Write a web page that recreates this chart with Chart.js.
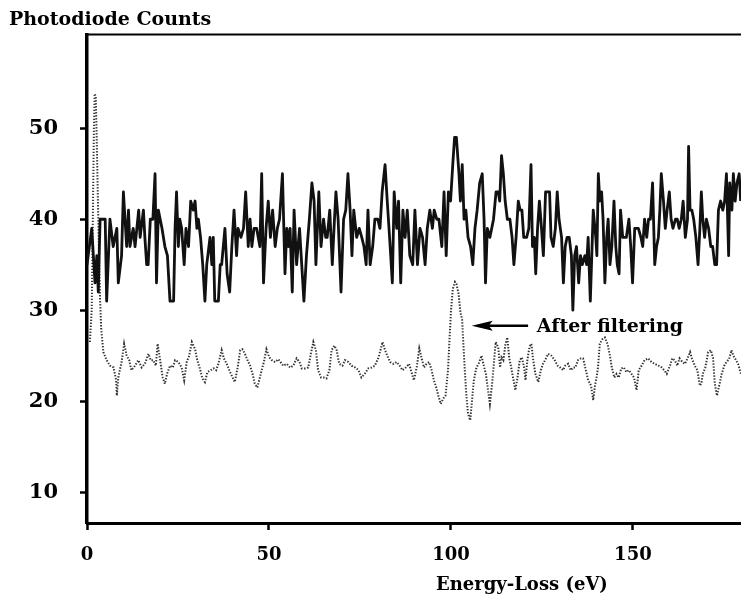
<!DOCTYPE html>
<html>
<head>
<meta charset="utf-8">
<script src="https://cdn.jsdelivr.net/npm/chart.js@4/dist/chart.umd.min.js"></script>
<style>
html,body{margin:0;padding:0;background:#fff;overflow:hidden;}
canvas{display:block;}
</style>
</head>
<body>
<canvas id="c" width="741" height="596"></canvas>
<script>
// ---- data ----
const xTickValues = [0, 50, 100, 150];
const yTickValues = [10, 20, 30, 40, 50];

// raw photodiode counts (thick black trace)
const rawEnergy = [0.0,1.3,2.2,2.7,3.1,3.6,5.0,5.4,6.3,7.2,8.2,8.6,9.5,10.0,10.9,11.4,11.8,12.7,13.2,14.2,14.6,15.5,15.9,16.4,16.8,17.4,18.1,18.7,19.1,19.6,20.6,21.4,22.1,22.8,23.8,24.2,24.6,25.1,25.5,26.0,26.7,27.2,27.9,28.5,29.2,29.7,30.2,30.6,31.2,31.8,32.4,32.9,33.8,34.3,34.7,35.1,36.1,36.6,37.0,37.9,38.5,39.2,39.8,40.4,41.1,41.5,42.3,43.0,43.6,44.3,44.8,45.3,45.9,46.6,47.5,48.0,48.5,49.2,49.8,50.4,51.0,51.7,52.3,52.9,
53.7,54.4,54.9,55.3,55.8,56.4,56.9,57.6,58.4,59.0,59.6,60.3,61.1,61.8,62.4,62.9,63.7,64.3,65.0,65.6,66.0,66.7,67.4,68.0,68.4,69.0,69.8,70.5,71.1,71.7,72.3,72.8,73.3,74.1,74.8,75.5,76.1,76.7,77.2,77.8,78.5,79.1,79.9,80.5,81.1,81.9,82.5,83.3,83.9,84.4,85.1,85.6,86.2,86.8,87.4,88.0,88.7,89.5,90.1,90.8,91.5,92.2,92.9,93.5,94.2,94.9,95.4,96.1,96.7,97.5,98.1,98.7,99.3,99.9,100.5,101.0,101.5,102.2,102.6,103.1,103.6,104.1,104.7,105.4,106.0,106.6,107.2,107.9,108.6,109.1,109.5,110.0,110.7,111.7,112.4,113.0,
113.4,113.9,114.4,114.9,115.5,116.2,116.8,117.3,117.9,118.5,119.0,119.5,120.0,120.8,121.4,122.0,122.4,122.9,123.3,123.8,124.3,124.7,125.4,126.0,126.4,127.1,127.5,128.1,128.7,129.2,129.7,130.4,130.9,131.4,131.9,132.5,133.1,133.5,134.0,134.5,135.1,135.6,136.1,136.8,137.3,137.7,138.3,138.7,139.1,139.8,140.1,140.5,140.9,141.4,141.8,142.3,142.8,143.2,143.7,144.2,144.8,145.3,145.7,146.2,146.6,147.2,147.7,148.2,148.9,149.4,149.9,150.5,151.0,151.5,152.2,152.7,153.2,153.8,154.3,154.8,155.4,156.0,156.5,157.0,157.4,157.8,158.4,158.9,159.4,160.0,160.5,161.0,161.7,162.2,162.7,163.3,163.8,164.4,165.0,165.3,165.7,166.2,166.7,167.3,167.9,168.4,168.8,169.2,169.7,170.2,170.8,171.4,171.9,172.5,173.0,173.5,174.1,174.7,175.2,175.7,176.3,176.6,177.2,177.6,178.1,178.6,179.2,179.6];
const rawCounts = [35,39,33,36,32,40,40,31,40,37,39,33,36,43,37,41,37,39,37,41,38,41,38,35,35,40,40,45,33,41,39,37,36,31,31,39,43,37,40,39,35,39,37,42,41,42,39,40,38,35,31,35,38,35,38,31,31,35,35,39,34,32,37,41,36,39,38,39,43,37,40,37,39,39,37,45,33,39,42,38,41,37,39,40,
45,34,39,37,39,32,41,35,39,35,31,36,40,44,42,35,43,37,40,38,38,41,35,40,43,40,32,40,41,45,41,36,41,38,39,38,37,35,41,35,37,40,40,39,43,46,42,37,33,43,39,42,33,41,38,41,36,35,41,35,39,38,35,39,41,39,41,40,40,37,43,36,43,42,46,49,49,45,42,46,40,41,38,37,35,39,41,44,45,40,33,39,38,40,43,43,
42,47,45,42,40,40,38,35,38,42,41,41,38,38,39,46,37,38,34,39,42,40,36,43,43,43,38,37,39,43,40,38,33,37,38,38,36,30,36,37,33,36,35,36,35,38,31,36,41,38,36,45,42,43,40,33,38,40,35,37,42,37,35,34,41,38,38,38,40,37,33,39,39,39,38,37,40,38,40,40,44,35,37,38,41,45,42,39,41,43,40,39,40,40,39,40,42,38,40,48,41,41,40,38,35,39,43,40,38,40,39,37,37,35,35,41,42,41,42,45,36,44,41,45,42,44,45,42];

// filtered spectrum (dotted trace)
const filteredEnergy = [0.8,1.3,1.6,1.9,2.1,2.4,2.7,3.0,3.3,3.6,3.9,
4.5,5.4,6.3,7.3,8.0,8.2,8.6,9.5,10.2,10.9,11.6,12.2,13.2,14.1,15.0,15.9,16.9,17.5,18.2,18.9,19.4,20.1,20.8,21.4,22.0,22.8,23.6,24.2,25.1,26.0,26.7,27.4,28.1,28.8,29.7,30.3,31.0,31.7,32.4,33.1,34.0,34.8,35.5,36.1,37.0,37.6,38.4,39.3,40.0,40.6,41.4,42.1,42.7,43.4,44.0,44.8,45.5,46.1,46.8,47.5,48.0,48.6,49.3,50.1,50.8,51.7,52.6,
53.9,54.9,55.8,56.7,57.6,58.4,59.0,59.9,60.8,61.5,62.2,62.9,63.5,64.3,65.0,65.8,66.6,67.2,68.0,68.6,69.3,70.2,70.9,71.8,72.7,73.7,74.6,75.4,76.3,77.3,78.2,79.1,80.1,80.7,81.2,81.9,82.5,83.3,84.2,85.1,85.9,86.7,87.6,88.5,89.3,89.8,90.6,91.3,91.9,92.6,93.3,94.0,94.7,95.3,95.9,96.6,97.2,97.9,98.5,99.2,99.6,100.0,100.5,101.1,101.5,102.1,102.6,103.1,103.4,103.8,104.2,104.7,105.3,105.7,106.3,107.0,107.6,108.4,108.9,109.6,110.2,110.7,111.3,111.8,112.3,113.0,
113.5,113.9,114.4,115.0,115.5,116.0,116.7,117.2,117.7,118.3,118.9,119.5,120.1,120.5,121.0,121.6,122.1,122.5,123.2,124.0,124.7,125.3,126.0,126.7,127.6,128.5,129.3,130.0,130.8,131.4,132.2,132.9,133.6,134.2,134.9,135.7,136.3,136.9,137.7,138.5,139.1,139.5,140.0,140.4,140.9,141.6,142.3,143.0,143.6,144.2,144.9,145.5,146.1,146.8,147.5,148.2,148.9,149.6,150.3,151.0,151.6,152.4,153.2,154.2,155.1,156.0,157.0,157.9,158.6,159.3,160.2,160.8,161.5,162.2,162.8,163.6,164.3,165.0,165.7,166.2,167.0,167.7,168.4,168.8,169.2,169.9,170.7,171.4,172.0,172.5,173.1,173.7,174.4,175.1,175.7,176.4,177.1,177.6,178.2,178.9,179.7];
const filteredCounts = [26.5,30,40,50,53.8,53.5,48,42,36,31,28,
25.4,24.5,23.9,23.7,22.3,20.6,22.6,24.3,26.3,25.0,24.5,23.4,23.9,24.5,23.7,24.1,25.2,24.5,24.5,23.9,26.3,24.5,22.6,21.9,23.0,23.9,23.7,24.5,24.3,23.7,22.3,24.3,25.0,26.5,25.7,24.5,23.6,22.5,22.1,23.2,23.4,23.6,23.4,24.1,25.6,24.7,24.1,23.2,22.6,22.1,23.7,25.6,25.7,25.2,24.6,23.9,23.0,21.9,21.5,22.6,23.4,24.3,25.7,24.8,24.5,24.3,24.6,
23.9,24.1,23.7,23.9,24.7,24.3,23.6,23.6,23.7,25.2,26.5,25.6,23.4,22.6,22.6,22.5,23.4,25.6,26.1,25.6,24.1,23.9,24.5,24.3,23.9,23.7,23.4,22.6,23.0,23.6,23.7,23.9,24.8,25.7,26.5,25.6,25.0,24.3,24.1,24.3,23.9,23.4,23.7,24.1,23.0,22.3,23.7,25.8,24.8,23.7,24.1,24.3,23.4,22.3,21.6,20.5,19.7,20.3,20.6,23.4,26.7,29.9,32.3,33.1,32.9,31.8,29.8,28.9,26.3,23.4,20.8,18.6,17.9,19.7,22.3,23.7,24.1,25.0,24.1,23.0,21.2,19.7,21.9,24.1,26.5,25.9,
23.7,24.8,24.5,26.3,27.0,24.8,23.4,22.3,21.2,22.6,24.5,24.8,23.7,22.3,24.5,26.0,26.3,24.8,23.0,22.1,23.4,24.1,24.6,25.2,25.0,24.5,23.9,23.7,23.4,23.9,24.1,23.4,23.7,23.7,24.5,24.7,24.7,23.7,22.3,21.7,20.1,21.5,22.6,23.7,26.3,26.8,27.0,26.3,25.2,23.7,22.6,23.0,22.6,23.6,23.7,23.2,23.4,23.0,22.6,21.2,23.4,23.9,24.5,24.7,24.3,24.1,23.9,23.7,23.4,23.0,23.9,24.7,24.5,23.9,24.7,24.3,24.1,24.7,25.4,24.7,23.9,23.4,21.7,21.9,23.0,23.7,25.4,25.6,24.8,21.9,20.6,21.7,23.0,23.9,24.3,24.6,25.6,25.0,24.6,24.1,23.0];

const annotationText = 'After filtering';
const arrowTipEnergy = 105.7, arrowTailEnergy = 121.2, annotationCounts = 28.3, annotationTextEnergy = 123.6;

// ---- chart ----
const toPoints = (xs, ys) => xs.map((v, i) => ({x: v, y: ys[i]}));
const FONT = '"DejaVu Serif", "Liberation Serif", serif';

const decor = {
  id: 'decor',
  afterDraw(chart) {
    const {ctx, chartArea, scales: {x, y}} = chart;
    ctx.save();
    // top frame
    ctx.strokeStyle = '#000';
    ctx.lineWidth = 2;
    ctx.beginPath();
    ctx.moveTo(chartArea.left - 1.5, chartArea.top);
    ctx.lineTo(chartArea.right, chartArea.top);
    ctx.stroke();
    // titles
    ctx.fillStyle = '#000';
    ctx.font = 'bold 19px ' + FONT;
    ctx.textAlign = 'left';
    ctx.textBaseline = 'alphabetic';
    ctx.fillText('Photodiode Counts', 9, 25);
    ctx.font = 'bold 18px ' + FONT;
    ctx.textAlign = 'center';
    ctx.fillText('Energy-Loss (eV)', x.getPixelForValue(119.5), 590);
    // annotation arrow
    const ay = y.getPixelForValue(annotationCounts);
    const tip = x.getPixelForValue(arrowTipEnergy);
    const tail = x.getPixelForValue(arrowTailEnergy);
    ctx.lineWidth = 2.5;
    ctx.beginPath();
    ctx.moveTo(tip + 12, ay);
    ctx.lineTo(tail, ay);
    ctx.stroke();
    ctx.beginPath();
    ctx.moveTo(tip, ay);
    ctx.lineTo(tip + 21, ay - 5);
    ctx.lineTo(tip + 17, ay);
    ctx.lineTo(tip + 21, ay + 5);
    ctx.closePath();
    ctx.fill();
    ctx.font = 'bold 19px ' + FONT;
    ctx.textAlign = 'left';
    ctx.fillText(annotationText, x.getPixelForValue(annotationTextEnergy), ay + 6);
    ctx.restore();
  }
};

new Chart(document.getElementById('c'), {
  type: 'scatter',
  data: {
    datasets: [
      {
        label: 'Raw',
        data: toPoints(rawEnergy, rawCounts),
        showLine: true,
        borderColor: '#111',
        borderWidth: 2.8,
        borderJoinStyle: 'round',
        pointRadius: 0,
        tension: 0
      },
      {
        label: 'After filtering',
        data: toPoints(filteredEnergy, filteredCounts),
        showLine: true,
        borderColor: '#333',
        borderWidth: 2,
        borderDash: [1.4, 1.6],
        pointRadius: 0,
        tension: 0
      }
    ]
  },
  options: {
    responsive: false,
    animation: false,
    devicePixelRatio: 1,
    layout: {padding: {top: 33, left: 0, right: 0, bottom: 0}},
    plugins: {legend: {display: false}, tooltip: {enabled: false}, title: {display: false}},
    scales: {
      x: {
        type: 'linear',
        position: 'bottom',
        min: 0,
        max: 179.7,
        afterBuildTicks: s => { s.ticks = xTickValues.map(v => ({value: v})); },
        afterFit: s => { s.height = 73; },
        ticks: {color: '#000', font: {family: FONT, size: 18, weight: 'bold'}, padding: 15, maxRotation: 0, autoSkip: false},
        grid: {display: true, drawOnChartArea: false, drawTicks: true, tickLength: 7, tickWidth: 2.5, color: '#000'},
        border: {display: true, color: '#000', width: 3}
      },
      y: {
        type: 'linear',
        position: 'left',
        min: 6.6,
        max: 60.3,
        afterBuildTicks: s => { s.ticks = yTickValues.map(v => ({value: v})); },
        afterFit: s => { s.width = 87; },
        ticks: {color: '#000', font: {family: FONT, size: 21, weight: 'bold'}, padding: 22, autoSkip: false},
        grid: {display: true, drawOnChartArea: false, drawTicks: true, tickLength: 7, tickWidth: 2.5, color: '#000'},
        border: {display: true, color: '#000', width: 3.5}
      }
    }
  },
  plugins: [decor]
});
</script>
</body>
</html>
